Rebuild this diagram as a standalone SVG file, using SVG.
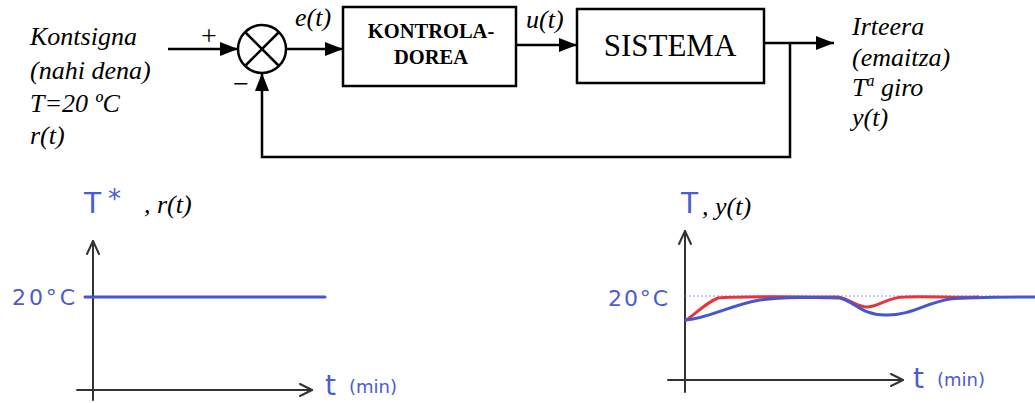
<svg xmlns="http://www.w3.org/2000/svg" width="1035" height="403" viewBox="0 0 1035 403">
<style>
.it{font-family:"Liberation Serif","Times New Roman",serif;font-style:italic;font-size:26px;fill:#000}
.ln{stroke:#000;stroke-width:2.5;fill:none}
.box{stroke:#000;stroke-width:2.5;fill:#fff}
.ax{stroke:#333;stroke-width:2;fill:none;stroke-linecap:round;stroke-linejoin:round}
.hw{font-family:"DejaVu Sans","Open Sans",sans-serif;fill:#4a5bd4}
.blue{stroke:#4457d0;stroke-width:3;fill:none;stroke-linecap:round}
.red{stroke:#e8333d;stroke-width:3;fill:none;stroke-linecap:round}
</style>
<defs>
<marker id="ah" markerUnits="userSpaceOnUse" markerWidth="18" markerHeight="14" refX="18" refY="7" orient="auto">
<path d="M0,0 L18,7 L0,14 z" fill="#000"/>
</marker>
</defs>

<g id="input-label">
<text class="it" x="30" y="45">Kontsigna</text>
<text class="it" x="30" y="79">(nahi dena)</text>
<text class="it" x="30" y="112">T=20 ºC</text>
<text class="it" x="30" y="144">r(t)</text>
</g>

<g id="summer">
<circle cx="262" cy="49" r="24" class="box"/>
<line x1="245" y1="32" x2="279" y2="66" class="ln" stroke-width="2"/>
<line x1="279" y1="32" x2="245" y2="66" class="ln" stroke-width="2"/>
<text x="209" y="45" font-family="Liberation Serif,serif" font-size="28" text-anchor="middle">+</text>
<text x="241" y="93" font-family="Liberation Serif,serif" font-size="28" text-anchor="middle">−</text>
</g>

<g id="controller">
<rect x="343" y="7" width="173" height="79" class="box"/>
<text x="431" y="38" font-family="Liberation Serif,serif" font-weight="bold" font-size="20.5" text-anchor="middle">KONTROLA-</text>
<text x="431" y="64" font-family="Liberation Serif,serif" font-weight="bold" font-size="20.5" text-anchor="middle">DOREA</text>
</g>

<g id="system">
<rect x="577" y="9" width="187" height="74" class="box"/>
<text x="670" y="56" font-family="Liberation Serif,serif" font-size="31" text-anchor="middle">SISTEMA</text>
</g>

<g id="output-label">
<text class="it" x="852" y="35">Irteera</text>
<text class="it" x="852" y="66">(emaitza)</text>
<text class="it" x="852" y="96">T<tspan font-size="16" dy="-10">a</tspan><tspan dy="10"> giro</tspan></text>
<text class="it" x="852" y="126">y(t)</text>
</g>

<g id="connectors">
<line x1="168" y1="49" x2="238" y2="49" class="ln" marker-end="url(#ah)"/>
<line x1="286" y1="49" x2="343" y2="49" class="ln" marker-end="url(#ah)"/>
<line x1="516" y1="45" x2="577" y2="45" class="ln" marker-end="url(#ah)"/>
<line x1="764" y1="43" x2="834" y2="43" class="ln" marker-end="url(#ah)"/>
<polyline points="790,43 790,157 262,157 262,73" class="ln" marker-end="url(#ah)"/>
<text class="it" x="295" y="26" font-size="23">e(t)</text>
<text class="it" x="526" y="28" font-size="23">u(t)</text>
</g>

<g id="graph-r">
<text class="hw" x="84" y="213" font-size="28">T</text>
<text class="hw" x="108" y="208" font-size="26">*</text>
<text class="it" x="144" y="213">,  r(t)</text>
<polyline points="93,400 93,241" class="ax"/>
<polyline points="87,254 93,241 99,254" class="ax"/>
<polyline points="77,390 312,390" class="ax"/>
<polyline points="300,384 312,390 300,396" class="ax"/>
<line x1="85" y1="297" x2="325" y2="297" class="blue"/>
<text class="hw" x="12" y="305" font-size="22" textLength="63">20°C</text>
<text class="hw" x="325" y="395" font-size="28">t</text>
<text class="hw" x="349" y="393" font-size="18">(min)</text>
</g>

<g id="graph-y">
<text class="hw" x="681" y="213" font-size="28">T</text>
<text class="it" x="702" y="215">,  y(t)</text>
<polyline points="685,392 685,231" class="ax"/>
<polyline points="679,244 685,231 691,244" class="ax"/>
<polyline points="668,380 903,380" class="ax"/>
<polyline points="891,374 903,380 891,386" class="ax"/>
<line x1="685" y1="296" x2="1000" y2="296" stroke="#8a96e0" stroke-width="1" stroke-dasharray="2,2"/>
<text class="hw" x="608" y="306" font-size="22" textLength="60">20°C</text>
<path class="red" d="M686,320 C695,315 705,303 718,298 C740,296 800,297 838,297 C850,299 858,308 868,307 C880,306 888,297 905,297 C930,296 955,298 978,297"/>
<path class="blue" d="M686,320 C710,318 730,305 760,300 C780,297 820,297 840,298 C855,302 862,315 885,315 C910,316 925,303 950,299 C970,297 1000,297 1035,297"/>
<text class="hw" x="913" y="388" font-size="28">t</text>
<text class="hw" x="937" y="386" font-size="18">(min)</text>
</g>
</svg>
